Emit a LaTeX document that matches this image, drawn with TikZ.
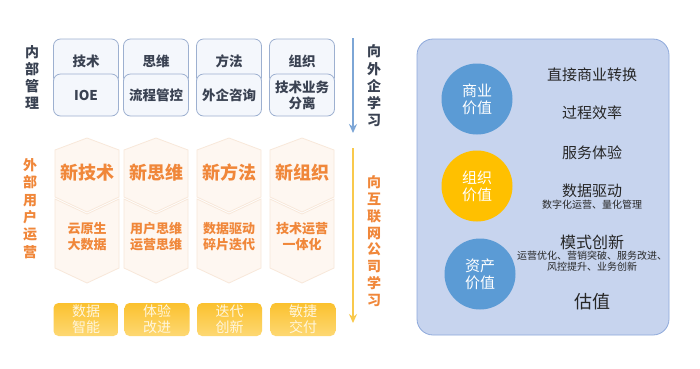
\documentclass[tikz,border=0pt]{standalone}
\usepackage{fontspec}
\setmainfont{Noto Sans CJK SC}
\usetikzlibrary{calc, positioning}
\usetikzlibrary{arrows.meta}

\definecolor{inkdark}{HTML}{3A4252}
\definecolor{boxline}{HTML}{9DB0D0}
\definecolor{boxfill}{HTML}{F4F7FC}
\definecolor{hexline}{HTML}{F8E8DA}
\definecolor{hexfill}{HTML}{FEF7F1}
\definecolor{newink}{HTML}{F0873A}
\definecolor{gold}{HTML}{FBC12E}
\definecolor{goldlight}{HTML}{FDD873}
\definecolor{goldink}{HTML}{FFF6DE}
\definecolor{arrowblue}{HTML}{7DA6D6}
\definecolor{arrowgold}{HTML}{F9C94C}
\definecolor{panelfill}{HTML}{C7D4EE}
\definecolor{panelline}{HTML}{8EA9DB}
\definecolor{valblue}{HTML}{5B9BD5}
\definecolor{valgold}{HTML}{FFC000}

\tikzset{
  topbox/.style={draw=boxline, fill=boxfill, line width=0.8pt, rounded corners=7pt,
    minimum width=65pt, inner sep=0pt, align=center, text=inkdark,
    font=\fontsize{13.5}{16}\selectfont\bfseries},
  sidelabel/.style={align=center, inner sep=0pt, font=\fontsize{14}{17.3}\selectfont\bfseries},
  newhead/.style={text=newink, inner sep=0pt, font=\fontsize{18}{20}\selectfont\bfseries},
  newsub/.style={text=newink, align=center, inner sep=0pt, font=\fontsize{13}{15.5}\selectfont\bfseries},
  goldbox/.style={rounded corners=5pt, top color=gold, bottom color=goldlight, draw=none,
    minimum width=65pt, minimum height=33pt, inner sep=0pt, align=center, text=goldink,
    font=\fontsize{14}{16}\selectfont},
  valcircle/.style={circle, minimum size=71pt, inner sep=0pt, align=center, text=white,
    font=\fontsize{15}{17}\selectfont},
  valtext/.style={text=black!85, inner sep=0pt, align=center, font=\fontsize{15}{17}\selectfont},
  valnote/.style={text=black!85, inner sep=0pt, align=center, font=\fontsize{10}{11.5}\selectfont},
  learn/.style={line width=2pt, -{Stealth[length=9pt, width=8pt]}},
}

\begin{document}
\begin{tikzpicture}[x=1pt, y=-1pt]
\useasboundingbox (0,0) rectangle (700,368);
\fill[white] (0,0) rectangle (700,368);

% inner management
\node[sidelabel, text=inkdark] (inner) at (32,77.5) {内\\部\\管\\理};
\node[topbox, minimum height=45pt] (tech) at (86,61.5) {技术};
\node[topbox, minimum height=45pt] (think) at (156,61.5) {思维};
\node[topbox, minimum height=45pt] (method) at (229,61.5) {方法};
\node[topbox, minimum height=45pt] (org) at (302,61.5) {组织};
\node[topbox, minimum height=42pt] (techsub) at (86,95) {IOE};
\node[topbox, minimum height=42pt] (thinksub) at (156,95) {流程管控};
\node[topbox, minimum height=42pt] (methodsub) at (229,95) {外企咨询};
\node[topbox, minimum height=42pt] (orgsub) at (302,95) {技术业务\\分离};

% external user operation
\node[sidelabel, text=newink] (outer) at (30,208.5) {外\\部\\用\\户\\运\\营};
\def\hw{32}
\foreach \cx in {87,156,229,302} {
  \draw[draw=hexline, fill=hexfill, line width=0.8pt]
    (\cx-\hw,150) -- (\cx,138) -- (\cx+\hw,150) -- (\cx+\hw,197) -- (\cx,212) -- (\cx-\hw,197) -- cycle;
  \draw[draw=hexline, fill=hexfill, line width=0.8pt]
    (\cx-\hw,199) -- (\cx,214) -- (\cx+\hw,199) -- (\cx+\hw,268) -- (\cx,283) -- (\cx-\hw,268) -- cycle;
}
\node[newhead] (newtech) at (87,173) {新技术};
\node[newhead] (newthink) at (156,173) {新思维};
\node[newhead] (newmethod) at (229,173) {新方法};
\node[newhead] (neworg) at (302,173) {新组织};
\node[newsub] (newtechsub) at (87,236.5) {云原生\\大数据};
\node[newsub] (newthinksub) at (156,236.5) {用户思维\\运营思维};
\node[newsub] (newmethodsub) at (229,236.5) {数据驱动\\碎片迭代};
\node[newsub] (neworgsub) at (302,236.5) {技术运营\\一体化};

% outcomes
\node[goldbox] (data) at (86,319.5) {数据\\智能};
\node[goldbox] (exper) at (157,319.5) {体验\\改进};
\node[goldbox] (iter) at (229.5,319.5) {迭代\\创新};
\node[goldbox] (agile) at (303,319.5) {敏捷\\交付};

% learning arrows
\coordinate (bluetop) at (353,38);
\coordinate (bluebot) at (353,133);
\coordinate (goldtop) at (353,148);
\coordinate (goldbot) at (353,323);
\draw[learn, arrowblue] (bluetop) -- (bluebot);
\draw[learn, arrowgold] (goldtop) -- (goldbot);
\node[sidelabel, text=inkdark] (fromfirms) at (374,86) {向\\外\\企\\学\\习};
\node[sidelabel, text=newink, font=\fontsize{14}{16.8}\selectfont\bfseries] (fromweb) at (374,241) {向\\互\\联\\网\\公\\司\\学\\习};

% value panel
\draw[draw=panelline, fill=panelfill, line width=0.8pt, rounded corners=16pt] (417,39) rectangle (669,335);
\node[valcircle, fill=valblue] (biz) at (477,99) {商业\\价值};
\node[valcircle, fill=valgold] (orgval) at (477,186) {组织\\价值};
\node[valcircle, fill=valblue] (asset) at (480,274) {资产\\价值};
\node[valtext] (convert) at (592,75) {直接商业转换};
\node[valtext] (effic) at (592,113) {过程效率};
\node[valtext] (service) at (592,153) {服务体验};
\node[valtext] (drive) at (592,191) {数据驱动};
\node[valnote] (drivenote) at (592,205) {数字化运营、量化管理};
\node[valtext, font=\fontsize{16}{18}\selectfont] (model) at (592,242) {模式创新};
\node[valnote] (modelnote) at (592,261) {运营优化、营销突破、服务改进、\\风控提升、业务创新};
\node[valtext, font=\fontsize{18}{20}\selectfont] (valuation) at (592,302) {估值};
\end{tikzpicture}
\end{document}
